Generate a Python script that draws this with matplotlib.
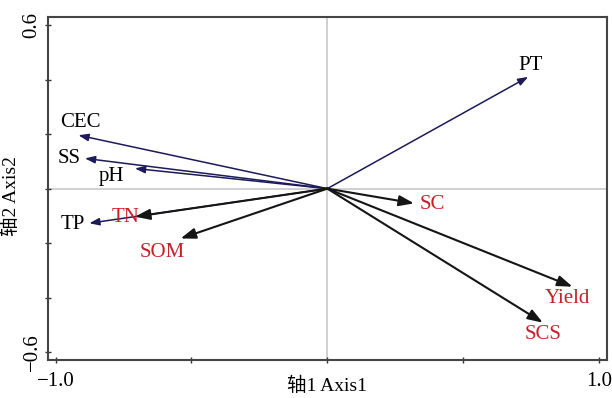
import matplotlib
matplotlib.use('Agg')
import matplotlib.pyplot as plt

plt.rcParams['font.family'] = ['Liberation Serif', 'Noto Sans CJK SC']
plt.rcParams['axes.unicode_minus'] = True

# environmental factors (thin navy arrows)
env_names = ["PT", "CEC", "SS", "pH", "TP"]
env_x = [0.739, -0.916, -0.892, -0.708, -0.876]
env_y = [0.410, 0.196, 0.111, 0.074, -0.127]

# response variables (black arrows, red labels)
resp_names = ["TN", "SOM", "SC", "Yield", "SCS"]
resp_x = [-0.708, -0.540, 0.319, 0.902, 0.793]
resp_y = [-0.103, -0.183, -0.054, -0.360, -0.492]

# label offsets in data units relative to arrow tips
env_lab_dx = [0.008, 0.008, -0.058, -0.085, -0.062]
env_lab_dy = [0.042, 0.045, 0.000, -0.030, -0.004]
resp_lab_dx = [-0.034, -0.068, 0.066, -0.018, 0.000]
resp_lab_dy = [-0.002, -0.052, -0.004, -0.043, -0.045]

navy = "#1c1a5a"
red = "#c8202a"

fig = plt.figure(figsize=(6.12, 3.98), dpi=100)
ax = fig.add_axes([0.0784, 0.0955, 0.9134, 0.8618])
ax.set_xlim(-1.028, 1.029)
ax.set_ylim(-0.629, 0.630)

ax.axhline(0, color="#c8c8c8", lw=1.2, zorder=0)
ax.axvline(0, color="#c8c8c8", lw=1.2, zorder=0)

for x, y in zip(env_x, env_y):
    ax.annotate("", xy=(x, y), xytext=(0, 0),
                arrowprops=dict(arrowstyle="-|>,head_length=0.6,head_width=0.22",
                                color=navy, lw=1.1, shrinkA=0, shrinkB=0))
for x, y in zip(resp_x, resp_y):
    ax.annotate("", xy=(x, y), xytext=(0, 0),
                arrowprops=dict(arrowstyle="-|>,head_length=0.9,head_width=0.32",
                                color="#151515", lw=1.5, shrinkA=0, shrinkB=0))

for n, x, y, dx, dy in zip(env_names, env_x, env_y, env_lab_dx, env_lab_dy):
    ax.text(x + dx, y + dy, n, color="black", fontsize=15, ha="center", va="center")
for n, x, y, dx, dy in zip(resp_names, resp_x, resp_y, resp_lab_dx, resp_lab_dy):
    ax.text(x + dx, y + dy, n, color=red, fontsize=15, ha="center", va="center")

ax.set_xticks([-1.0, -0.5, 0.0, 0.5, 1.0])
ax.set_xticklabels(["\u22121.0", "", "", "", "1.0"])
ax.set_yticks([-0.6, -0.4, -0.2, 0.0, 0.2, 0.4, 0.6])
ax.set_yticklabels(["\u22120.6", "", "", "", "", "", "0.6"], rotation=90, va="center")
ax.tick_params(direction="inout", length=5, width=1, color="#333333", labelsize=15)
ax.tick_params(axis="x", pad=6)
ax.tick_params(axis="y", pad=2)

for s in ax.spines.values():
    s.set_color("#444444")
    s.set_linewidth(1.5)

ax.set_xlabel("轴1 Axis1", fontsize=14)
ax.set_ylabel("轴2 Axis2", fontsize=14)
ax.xaxis.set_label_coords(0.5, -0.048)
ax.yaxis.set_label_coords(-0.050, 0.478)

fig.savefig("out.png", dpi=100)
